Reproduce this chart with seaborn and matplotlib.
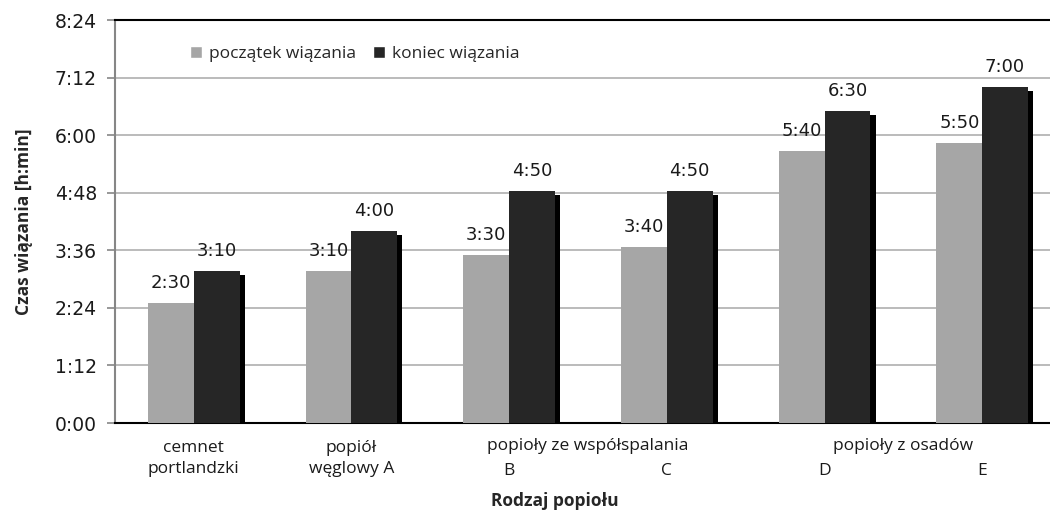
import matplotlib
matplotlib.use("Agg")
import matplotlib.pyplot as plt
import matplotlib.patheffects as pe
import matplotlib.transforms as mtransforms
from matplotlib.patches import Patch
import pandas as pd
import seaborn as sns

# setting times in minutes
categories = ["cement", "A", "B", "C", "D", "E"]
series = ["początek wiązania", "koniec wiązania"]
start_min = [150, 190, 210, 220, 340, 350]
end_min = [190, 240, 290, 290, 390, 420]
tick_labels = ["cemnet\nportlandzki", "popiół\nwęglowy A", "", "", "", ""]
letter_labels = ["B", "C", "D", "E"]
letter_pos = [2, 3, 4, 5]
group_labels = ["popioły ze współspalania", "popioły z osadów"]
group_pos = [2.5, 4.5]
colors = ["#A6A6A6", "#262626"]


def hm(m):
    return f"{int(m) // 60}:{int(m) % 60:02d}"


df = pd.DataFrame({
    "kat": categories * 2,
    "seria": [series[0]] * 6 + [series[1]] * 6,
    "czas": start_min + end_min,
})

sns.set_style("white")
plt.rcParams["font.family"] = ["DejaVu Sans"]
txt_font = ["Open Sans", "DejaVu Sans"]

fig = plt.figure(figsize=(10.5, 5.15), dpi=100)
ax = fig.add_axes([0.1095, 0.1786, 0.8905, 0.7825])

sns.barplot(data=df, x="kat", y="czas", hue="seria", order=categories,
            hue_order=series, palette=colors, width=0.58, gap=0,
            saturation=1, legend=False, linewidth=0, ax=ax, zorder=3)

for bar in ax.containers[1]:
    bar.set_path_effects([pe.SimplePatchShadow(offset=(3.8, -2.8), shadow_rgbFace="black", alpha=1.0),
                          pe.Normal()])

for cont, vals in zip(ax.containers, [start_min, end_min]):
    ax.bar_label(cont, labels=[hm(v) for v in vals], padding=8, fontsize=13, color="#1a1a1a")

ax.set_ylim(0, 504)
ax.set_xlim(-0.5, 5.43)
yt = list(range(0, 505, 72))
ax.set_yticks(yt)
ax.set_yticklabels([hm(v) for v in yt], fontsize=13.5, color="#1a1a1a")
ax.yaxis.grid(True, color="#B5B5B5", lw=1.3, zorder=0)
ax.set_axisbelow(True)
ax.tick_params(axis="y", length=6, width=1.2, color="#868686", pad=7, left=True)
ax.tick_params(axis="x", length=0, pad=12)
ax.set_xticks(range(len(categories)))
ax.set_xticklabels(tick_labels, fontsize=12.5, family=txt_font, color="#1a1a1a", linespacing=1.45)

trans = mtransforms.blended_transform_factory(ax.transData, ax.transAxes)
for lab, x in zip(group_labels, group_pos):
    ax.text(x, -0.058, lab, transform=trans, ha="center", va="center", fontsize=12.5,
            family=txt_font, color="#1a1a1a")
for lab, x in zip(letter_labels, letter_pos):
    ax.text(x, -0.118, lab, transform=trans, ha="center", va="center", fontsize=12.5,
            family=txt_font, color="#1a1a1a")

for s in ["top", "bottom"]:
    ax.spines[s].set_color("black")
    ax.spines[s].set_linewidth(1.5)
ax.spines["left"].set_color("#868686")
ax.spines["left"].set_linewidth(1.5)
ax.spines["right"].set_visible(False)

ax.set_xlabel("Rodzaj popiołu", fontsize=12.5, fontweight="bold", family=txt_font)
ax.set_ylabel("Czas wiązania [h:min]", fontsize=12.5, fontweight="bold", family=txt_font)
ax.xaxis.set_label_coords(0.47, -0.17)
ax.yaxis.set_label_coords(-0.088, 0.5)

handles = [Patch(facecolor=c, label=s) for c, s in zip(colors, series)]
ax.legend(handles=handles, ncol=2, frameon=False, loc="upper left",
          bbox_to_anchor=(0.063, 0.975), handlelength=0.7, handleheight=0.7,
          handletextpad=0.4, columnspacing=1.0,
          prop={"family": txt_font, "size": 12.5})

fig.savefig("out.png", dpi=100)
